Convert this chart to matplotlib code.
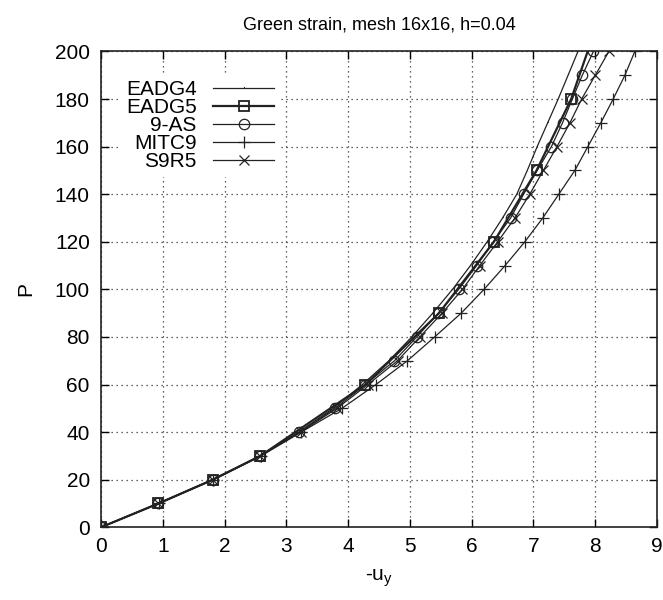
import numpy as np
import matplotlib
matplotlib.use("Agg")
import matplotlib.pyplot as plt

plt.rcParams['font.family'] = ['Liberation Sans', 'DejaVu Sans']
plt.rcParams['mathtext.fontset'] = 'custom'
plt.rcParams['mathtext.rm'] = 'Liberation Sans'

# Load levels
P_all = [0, 10, 20, 30, 40, 50, 60, 70, 80, 90, 100,
         110, 120, 130, 140, 150, 160, 170, 180, 190, 200]
P_eadg5 = [0, 10, 20, 30, 60, 90, 120, 150, 180, 210]

# Displacements -u_y for each element formulation
u_eadg4 = [0, 0.92, 1.80, 2.57, 3.20, 3.76, 4.23, 4.66, 5.03, 5.37, 5.69,
           5.98, 6.25, 6.50, 6.73, 6.90, 7.06, 7.23, 7.40, 7.56, 7.72]
u_eadg5 = [0, 0.93, 1.81, 2.58, 4.28, 5.47, 6.36, 7.05, 7.61, 8.01]
u_9as = [0, 0.93, 1.81, 2.58, 3.21, 3.79, 4.28, 4.75, 5.11, 5.46, 5.79,
         6.08, 6.35, 6.63, 6.84, 7.06, 7.29, 7.47, 7.63, 7.79, 7.97]
u_mitc9 = [0, 0.94, 1.82, 2.59, 3.24, 3.90, 4.45, 4.96, 5.40, 5.83, 6.20,
           6.54, 6.86, 7.15, 7.41, 7.67, 7.88, 8.09, 8.29, 8.48, 8.64]
u_s9r5 = [0, 0.93, 1.81, 2.58, 3.23, 3.82, 4.32, 4.80, 5.16, 5.52, 5.85,
          6.13, 6.42, 6.70, 6.94, 7.16, 7.38, 7.59, 7.78, 8.00, 8.22]

labels = ["EADG4", "EADG5", "9-AS", "MITC9", "S9R5"]

fig = plt.figure(figsize=(6.63, 6.00), dpi=100)
ax = fig.add_axes([0.1523, 0.1212, 0.8387, 0.7930])

lc = "#222222"
ax.plot(u_eadg4, P_all, color=lc, lw=0.9, marker=',', label=labels[0])
ax.plot(u_eadg5, P_eadg5, color=lc, lw=1.6, marker='s', ms=7, mfc='none',
        mec=lc, mew=1.3, label=labels[1])
ax.plot(u_9as, P_all, color=lc, lw=0.9, marker='o', ms=7.5, mfc='none',
        mec=lc, mew=0.9, label=labels[2])
ax.plot(u_mitc9, P_all, color=lc, lw=0.9, marker='+', ms=9, mew=0.9,
        label=labels[3])
ax.plot(u_s9r5, P_all, color=lc, lw=0.9, marker='x', ms=7.5, mew=0.9,
        label=labels[4])

ax.set_xlim(0, 9)
ax.set_ylim(0, 200)
ax.set_xticks(np.arange(0, 10, 1))
ax.set_yticks(np.arange(0, 201, 20))

ax.grid(True, color='#333333', linestyle=(0, (1, 3)), lw=0.9)
ax.set_axisbelow(True)

ax.tick_params(direction='in', length=6, width=1.0, top=True, right=True,
               labelsize=15, colors='black')
ax.tick_params(axis='y', pad=8)
ax.tick_params(axis='x', pad=7)
for s in ax.spines.values():
    s.set_linewidth(1.2)
    s.set_color('#222222')

ax.set_title("Green strain, mesh 16x16, h=0.04", fontsize=13, pad=16)
ax.set_xlabel("-u$_\\mathregular{y}$", fontsize=15, labelpad=8)
ax.set_ylabel("P", fontsize=15, labelpad=14)

leg = ax.legend(loc='upper left', bbox_to_anchor=(0.015, 0.975),
                markerfirst=False, fontsize=15, handlelength=2.9,
                handletextpad=0.8, labelspacing=-0.05, borderpad=0.3,
                frameon=True, fancybox=False, framealpha=1.0)
leg.get_frame().set_edgecolor('none')
leg.get_frame().set_facecolor('white')

fig.savefig("out.png", dpi=100)
